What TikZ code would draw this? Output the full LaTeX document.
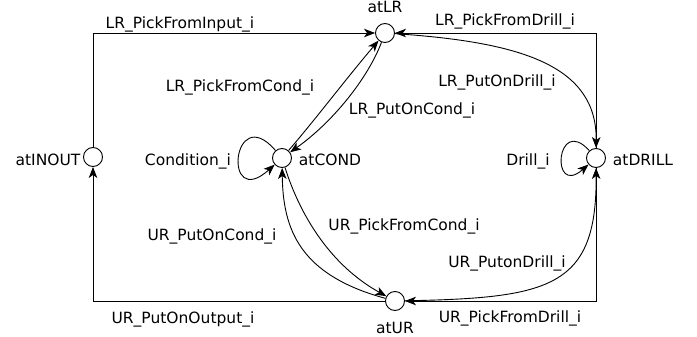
\documentclass[tikz,border=0pt]{standalone}
\usepackage{fontspec}
\setmainfont{DejaVu Sans}
\usetikzlibrary{arrows.meta}
\begin{document}
\begin{tikzpicture}[x=1pt,y=-1pt,
  state/.style={circle,draw,line width=0.9pt,minimum size=19pt,inner sep=0pt},
  lbl/.style={anchor=base,inner sep=0pt,font=\fontsize{15.5}{18}\selectfont},
  conn/.style={line width=0.9pt,-{Stealth[length=11pt,width=8.5pt,inset=3pt]}},
  plain/.style={line width=0.9pt}]
\useasboundingbox (0,0) rectangle (697,337);
% states
\node[state] (LR) at (385,33) {};
\node[state] (INOUT) at (93,157) {};
\node[state] (COND) at (282,158) {};
\node[state] (DRILL) at (596,158) {};
\node[state] (UR) at (395,301) {};
% state names
\node[lbl] (tLR) at (385,13) {atLR};
\node[lbl] (tINOUT) at (48,165) {atINOUT};
\node[lbl] (tCOND) at (330,165) {atCOND};
\node[lbl] (tDRILL) at (643,165) {atDRILL};
\node[lbl] (tUR) at (395,333) {atUR};
\node[lbl] (tCondition) at (188,165) {Condition\_i};
\node[lbl] (tDrill) at (528,165) {Drill\_i};
% transition labels
\node[lbl] (l1) at (180,29) {LR\_PickFromInput\_i};
\node[lbl] (l2) at (505,26) {LR\_PickFromDrill\_i};
\node[lbl] (l3) at (240,92) {LR\_PickFromCond\_i};
\node[lbl] (l4) at (412,115) {LR\_PutOnCond\_i};
\node[lbl] (l5) at (497,87) {LR\_PutOnDrill\_i};
\node[lbl] (l6) at (212,240) {UR\_PutOnCond\_i};
\node[lbl] (l7) at (404,230) {UR\_PickFromCond\_i};
\node[lbl] (l8) at (507,267) {UR\_PutonDrill\_i};
\node[lbl] (l9) at (183,323) {UR\_PutOnOutput\_i};
\node[lbl] (l10) at (510,322) {UR\_PickFromDrill\_i};
% orthogonal connectors
\draw[conn] (INOUT) |- (LR);
\draw[conn] (DRILL) |- (LR);
\draw[conn] (UR) -| (INOUT);
\draw[conn] (DRILL) |- (UR);
% curved connectors
\draw[conn] (COND) .. controls (315,120) and (345,80) .. (LR);
\draw[conn] (LR) .. controls (368,78) and (333,122) .. (COND);
\draw[conn] (LR) .. controls (520,42) and (597,65) .. (DRILL);
\draw[conn] (UR) .. controls (550,298) and (597,288) .. (DRILL);
\draw[conn] (UR) .. controls (300,275) and (283,230) .. (COND);
\draw[conn] (COND) .. controls (300,215) and (330,265) .. (UR);
% self loops
\draw[conn] (COND) .. controls (232,100) and (222,212) .. (COND);
\draw[conn] (DRILL) .. controls (556,114) and (550,198) .. (DRILL);
\end{tikzpicture}
\end{document}
